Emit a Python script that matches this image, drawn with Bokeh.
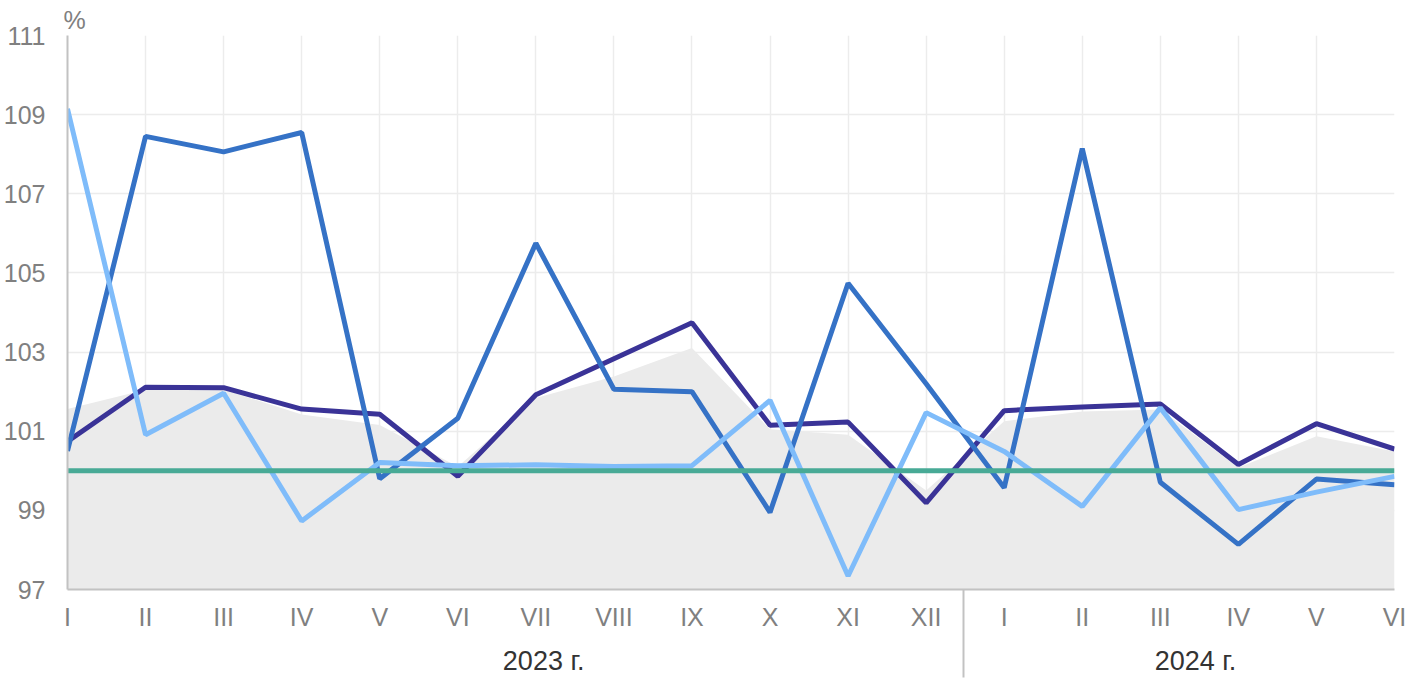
from bokeh.plotting import figure
from bokeh.models import FixedTicker, Range1d, LinearAxis
from bokeh.embed import file_html
from bokeh.resources import INLINE

months = ["I", "II", "III", "IV", "V", "VI", "VII", "VIII", "IX", "X", "XI", "XII",
          "I", "II", "III", "IV", "V", "VI"]
years = ["2023 г.", "2024 г."]
year_pos = [6.1, 14.45]
year_sep = 11.48
y_ticks = [97, 99, 101, 103, 105, 107, 109, 111]

area_vals = [101.56, 102.05, 102.05, 101.42, 101.16, 100.1, 101.84, 102.38, 103.1,
             101.05, 100.91, 99.5, 101.25, 101.5, 101.55, 100.08, 100.87, 100.49]
purple_vals = [100.74, 102.11, 102.1, 101.56, 101.43, 99.86, 101.92, 102.83, 103.74,
               101.15, 101.23, 99.19, 101.52, 101.61, 101.69, 100.16, 101.19, 100.55]
blue_vals = [100.5, 108.45, 108.06, 108.55, 99.8, 101.33, 105.75, 102.06, 102.0,
             98.95, 104.74, 102.2, 99.57, 108.14, 99.71, 98.14, 99.79, 99.65]
light_vals = [109.15, 100.91, 101.96, 98.73, 100.21, 100.13, 100.15, 100.11, 100.13,
              101.78, 97.34, 101.47, 100.49, 99.1, 101.59, 99.02, 99.46, 99.86]
green_vals = [100.0] * 18

x = list(range(len(months)))

FONT = "Liberation Sans"
GREY = "#808080"
AXIS_GREY = "#c2c2c2"

p = figure(width=1421, height=678, output_backend="svg", toolbar_location=None,
           x_range=Range1d(0, 17), y_range=Range1d(97, 111),
           min_border_left=66, min_border_right=27, min_border_top=35, min_border_bottom=88)
p.outline_line_color = None
p.background_fill_color = "white"

# grey area
p.varea(x=x, y1=[97] * len(x), y2=area_vals, fill_color="#ebebeb")

p.line(x, purple_vals, line_color="#3a3397", line_width=5)
p.line(x, blue_vals, line_color="#3572c6", line_width=5)
p.line(x, light_vals, line_color="#7fbcfa", line_width=5)
p.line(x, green_vals, line_color="#48aa96", line_width=5)

# main axes
p.xaxis.ticker = FixedTicker(ticks=x, minor_ticks=[year_sep])
p.xaxis.major_label_overrides = {i: m for i, m in enumerate(months)}
p.yaxis.ticker = FixedTicker(ticks=y_ticks)
for ax in (p.xaxis[0], p.yaxis[0]):
    ax.axis_line_color = AXIS_GREY
    ax.axis_line_width = 2
    ax.major_tick_line_color = None
    ax.major_tick_out = 0
    ax.major_tick_in = 0
    ax.major_label_text_color = GREY
    ax.major_label_text_font = FONT
    ax.major_label_text_font_size = "25px"
p.yaxis.minor_tick_line_color = None
p.yaxis.major_label_standoff = 22
# year separator drawn as a long minor tick; negative standoff keeps labels close
p.xaxis.minor_tick_line_color = AXIS_GREY
p.xaxis.minor_tick_line_width = 2
p.xaxis.minor_tick_in = 0
p.xaxis.minor_tick_out = 88
p.xaxis.major_label_standoff = 13 - 88

# year axis
year_axis = LinearAxis(ticker=FixedTicker(ticks=year_pos),
                       major_label_overrides={year_pos[0]: years[0], year_pos[1]: years[1]})
year_axis.axis_line_color = None
year_axis.major_tick_line_color = None
year_axis.minor_tick_line_color = None
year_axis.major_tick_out = 0
year_axis.major_tick_in = 0
year_axis.major_label_text_color = "#333333"
year_axis.major_label_text_font = FONT
year_axis.major_label_text_font_size = "27px"
year_axis.major_label_standoff = 12
p.add_layout(year_axis, "below")

# percent sign
pct_axis = LinearAxis(ticker=FixedTicker(ticks=[0.09]), major_label_overrides={0.09: "%"})
pct_axis.axis_line_color = None
pct_axis.major_tick_line_color = None
pct_axis.minor_tick_line_color = None
pct_axis.major_tick_out = 0
pct_axis.major_tick_in = 0
pct_axis.major_label_text_color = GREY
pct_axis.major_label_text_font = FONT
pct_axis.major_label_text_font_size = "25px"
pct_axis.major_label_standoff = 2
p.add_layout(pct_axis, "above")

p.xgrid.grid_line_color = "#ececec"
p.ygrid.grid_line_color = "#ececec"
p.xgrid.grid_line_width = 1.5
p.ygrid.grid_line_width = 1.5

open("out.html", "w").write(file_html(p, INLINE))
